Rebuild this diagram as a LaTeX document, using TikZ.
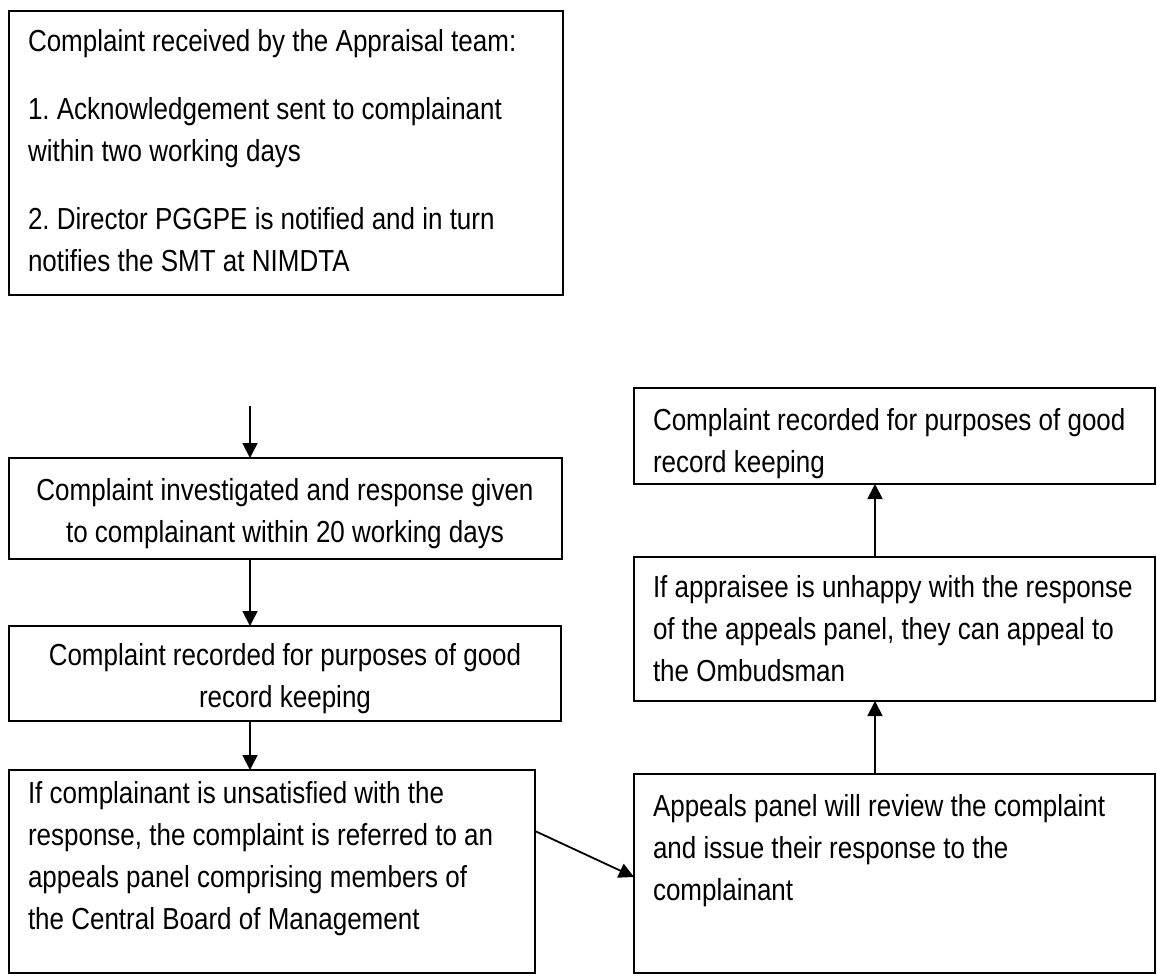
\documentclass[tikz,border=0pt]{standalone}
\usepackage{fontspec}
\setmainfont[FakeStretch=0.855]{Liberation Sans}
\usetikzlibrary{arrows.meta,calc}
\frenchspacing
\begin{document}
\begin{tikzpicture}[x=1pt,y=-1pt,
  box/.style={draw, line width=2pt, rectangle, inner sep=0pt, outer sep=0pt, anchor=north west},
  txt/.style={inner sep=0pt, outer sep=0pt, font=\fontsize{30.4}{42}\selectfont},
  arr/.style={line width=1.8pt, -{Triangle[length=15pt,width=15pt]}}]
\useasboundingbox (0,0) rectangle (1157,976);

% boxes of the left column
\node[box, minimum width=554pt, minimum height=284pt] (b1) at (9,11) {};
\node[box, minimum width=553pt, minimum height=101pt] (b2) at (9,458) {};
\node[box, minimum width=552pt, minimum height=95pt]  (b3) at (9,626) {};
\node[box, minimum width=526pt, minimum height=203pt] (b4) at (9,770) {};
% boxes of the right column
\node[box, minimum width=521pt, minimum height=199pt] (b5) at (634,774) {};
\node[box, minimum width=521pt, minimum height=144pt] (b6) at (634,557) {};
\node[box, minimum width=521pt, minimum height=96pt]  (b7) at (634,388) {};

% texts, placed by the baseline of their last line
\node[txt, anchor=base west, align=left] (t1) at (28,272)
  {Complaint received by the Appraisal team:\\[26pt]
   1. Acknowledgement sent to complainant\\
   within two working days\\[26pt]
   2. Director PGGPE is notified and in turn\\
   notifies the SMT at NIMDTA};
\node[txt, anchor=base, align=center] (t2) at (285,542)
  {Complaint investigated and response given\\
   to complainant within 20 working days};
\node[txt, anchor=base, align=center] (t3) at (285,707)
  {Complaint recorded for purposes of good\\
   record keeping};
\node[txt, anchor=base west, align=left] (t4) at (28,929)
  {If complainant is unsatisfied with the\\
   response, the complaint is referred to an\\
   appeals panel comprising members of\\
   the Central Board of Management};
\node[txt, anchor=base west, align=left] (t5) at (653,900)
  {Appeals panel will review the complaint\\
   and issue their response to the\\
   complainant};
\node[txt, anchor=base west, align=left] (t6) at (653,681)
  {If appraisee is unhappy with the response\\
   of the appeals panel, they can appeal to\\
   the Ombudsman};
\node[txt, anchor=base west, align=left] (t7) at (653,472)
  {Complaint recorded for purposes of good\\
   record keeping};

% connectors
\coordinate (s1) at (250,406);
\draw[arr] (s1) -- (s1 |- b2.north);
\draw[arr] (b2.south -| s1) -- (b3.north -| s1);
\draw[arr] (b3.south -| s1) -- (b4.north -| s1);
\draw[arr] ($(b4.north east)+(0,61)$) -- ($(b5.north west)+(0,103)$);
\draw[arr] ($(b5.north west)+(241,0)$) -- ($(b6.south west)+(241,0)$);
\draw[arr] ($(b6.north west)+(241,0)$) -- ($(b7.south west)+(241,0)$);
\end{tikzpicture}
\end{document}
